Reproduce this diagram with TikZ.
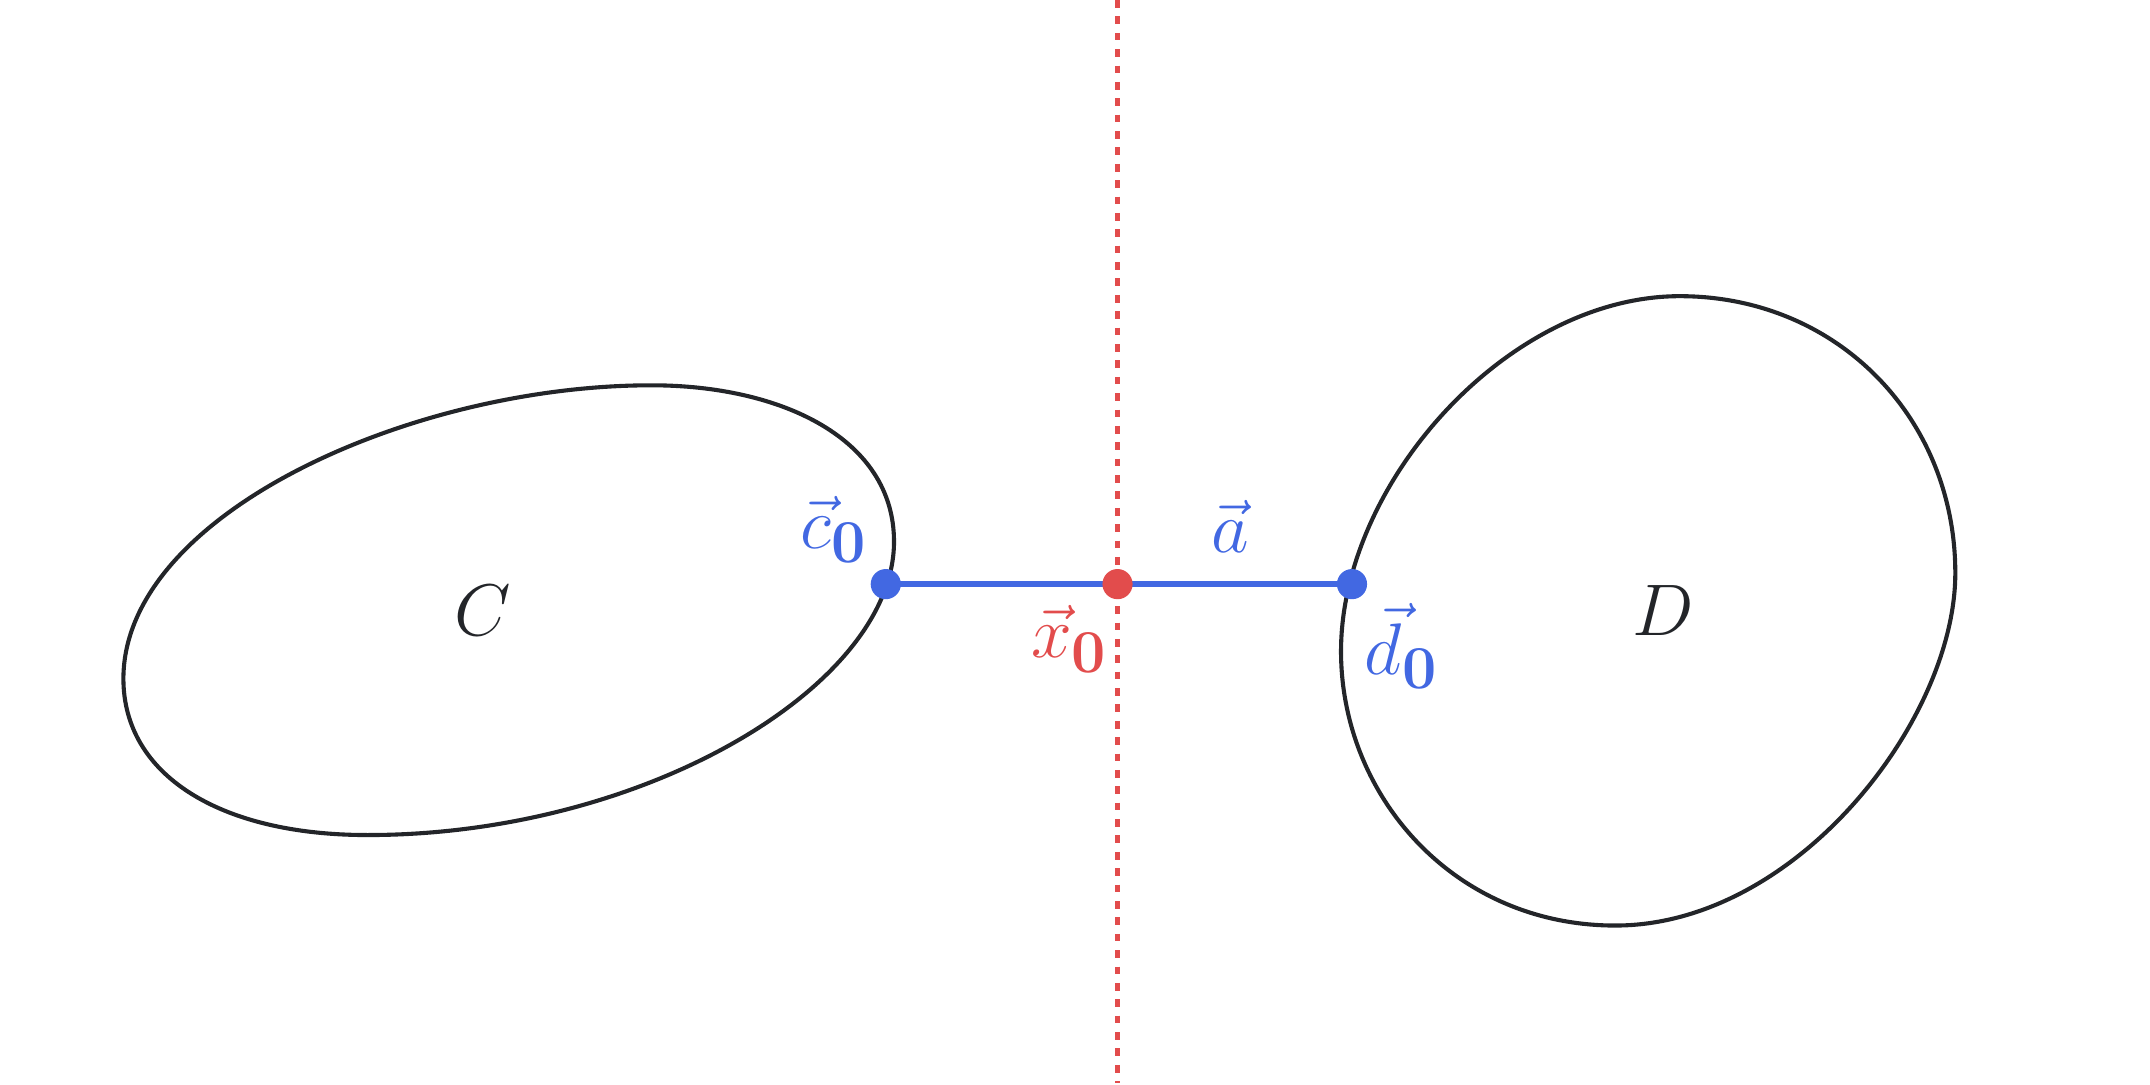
\documentclass[tikz,border=0pt]{standalone}
\usepackage{amsmath}
\definecolor{cblue}{RGB}{66,104,226}
\definecolor{cred}{RGB}{226,76,76}
\definecolor{cdark}{RGB}{35,37,41}
\tikzset{
  blob/.style={draw=cdark, line width=1.7pt},
  bluedot/.style={circle, fill=cblue, inner sep=0pt, minimum size=0.44cm},
  reddot/.style={circle, fill=cred, inner sep=0pt, minimum size=0.44cm},
  lbl/.style={font=\Huge, inner sep=0pt, scale=1.22, transform shape},
}
\begin{document}
\begin{tikzpicture}[x=0.02cm, y=-0.02cm]
\useasboundingbox (0,0) rectangle (1568,790.6);
% separating line
\coordinate (ltop) at (815,0);
\coordinate (lbot) at (815,790);
\draw[cred, line width=1.8pt, dash pattern=on 3.2pt off 3.6pt] (ltop) -- (lbot);
% set C
\draw[blob] (475,281) .. controls (570,281) and (652,320) .. (652,395)
  .. controls (652,500) and (470,609) .. (268,609)
  .. controls (160,609) and (90,565) .. (90,495)
  .. controls (90,375) and (300,281) .. (475,281) -- cycle;
% set D
\draw[blob] (1225,216) .. controls (1340,216) and (1426,305) .. (1426,418)
  .. controls (1426,525) and (1310,675) .. (1178,675)
  .. controls (1060,675) and (978,580) .. (978,475)
  .. controls (978,352) and (1100,216) .. (1225,216) -- cycle;
% points
\coordinate (pc) at (646,426);
\coordinate (px) at (815,426);
\coordinate (pd) at (986,426);
\draw[cblue, line width=2.4pt] (pc) -- (pd);
\node[bluedot] (c0) at (pc) {};
\node[reddot] (x0) at (px) {};
\node[bluedot] (d0) at (pd) {};
% labels
\node[lbl, text=cdark] (lC) at (352,445) {$C$};
\node[lbl, text=cdark] (lD) at (1213,445) {$D$};
\node[lbl, text=cblue] (lc0) at (608,386) {$\vec{c}_{\mathbf{0}}$};
\node[lbl, text=cblue] (la) at (897,384) {$\vec{a}$};
\node[lbl, text=cred] (lx0) at (780,466) {$\vec{x}_{\mathbf{0}}$};
\node[lbl, text=cblue] (ld0) at (1022,471) {$\vec{d}_{\mathbf{0}}$};
\end{tikzpicture}
\end{document}
